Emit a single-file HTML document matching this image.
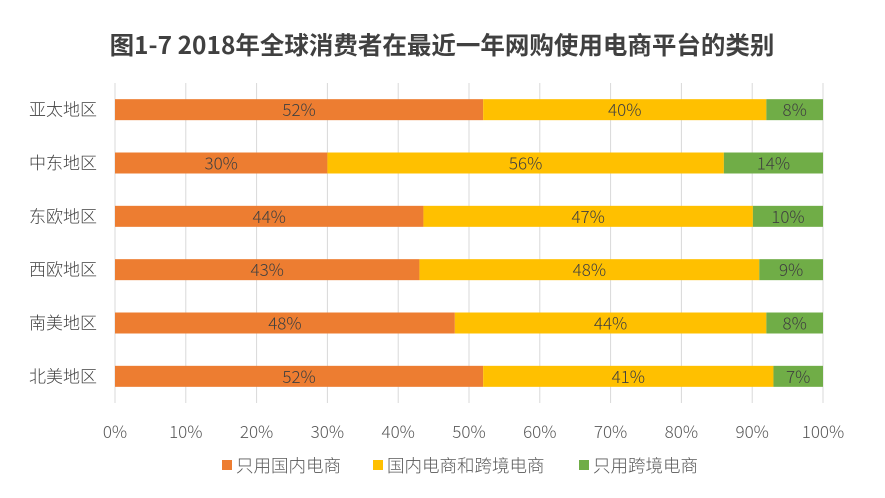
<!DOCTYPE html>
<html><head><meta charset="utf-8"><style>
body{margin:0;background:#fff;}
svg text{font-family:"Noto Sans CJK SC",sans-serif;font-weight:300;}
</style></head><body>
<svg id="chart" width="885" height="493" xmlns="http://www.w3.org/2000/svg">
<rect width="885" height="493" fill="#fff"/>
<text x="442" y="54" text-anchor="middle" font-size="24.5" fill="#404040" style="font-weight:bold">图1-7  2018年全球消费者在最近一年网购使用电商平台的类别</text>
<g id="grid"></g><g id="bars"></g><g id="axis"></g><g id="legend"></g>
</svg>
<script>
const categories=["亚太地区","中东地区","东欧地区","西欧地区","南美地区","北美地区"];
const domesticOnly=[52,30,44,43,48,52];
const both=[40,56,47,48,44,41];
const crossOnly=[8,14,10,9,8,7];
const ticks=[0,10,20,30,40,50,60,70,80,90,100];
const seriesNames=["只用国内电商","国内电商和跨境电商","只用跨境电商"];
const colors=["#ED7D31","#FFC000","#70AD47"];
const NS="http://www.w3.org/2000/svg";
const x0=115,x1=823,yTop=83,yBot=403;
const xs=v=>x0+(x1-x0)*v/100;
const rowH=(yBot-yTop)/categories.length;
const yc=i=>yTop+rowH*(i+0.5);
function mk(tag,attrs,parent){const e=document.createElementNS(NS,tag);for(const k in attrs)e.setAttribute(k,attrs[k]);parent.appendChild(e);return e;}
const grid=document.getElementById('grid'),bars=document.getElementById('bars'),axis=document.getElementById('axis'),legend=document.getElementById('legend');
ticks.forEach(t=>{
  const l=mk('line',{x1:xs(t),x2:xs(t),y1:yTop,y2:yBot,stroke:'#D9D9D9','stroke-width':1},grid);
  
  
  const tx=mk('text',{x:xs(t),y:438,'text-anchor':'middle','font-size':17,fill:'#595959'},axis);
  tx.textContent=t+'%';
  
  
});
const series=[domesticOnly,both,crossOnly];
categories.forEach((c,i)=>{
  const lab=mk('text',{x:97,y:yc(i)+6,'text-anchor':'end','font-size':17,fill:'#404040'},axis);
  lab.textContent=c;
  
  
  const total=series.reduce((a,s)=>a+s[i],0);
  let acc=0;
  series.forEach((s,k)=>{
    const v=s[i]*100/total;
    const r=mk('rect',{x:xs(acc),y:yc(i)-10.5,width:xs(acc+v)-xs(acc),height:21,fill:colors[k]},bars);
    
    
    const t=mk('text',{x:xs(acc+v/2),y:yc(i)+6.5,'text-anchor':'middle','font-size':17,fill:'#404040'},bars);
    t.textContent=s[i]+'%';
    
    
    acc+=v;
  });
});
const lx=[222,373,579];
seriesNames.forEach((n,k)=>{
  const r=mk('rect',{x:lx[k],y:460,width:10,height:10,fill:colors[k]},legend);
  
  
  const t=mk('text',{x:lx[k]+14,y:472,'font-size':17.5,fill:'#595959'},legend);
  t.textContent=n;
  
  
});
</script>
</body></html>
